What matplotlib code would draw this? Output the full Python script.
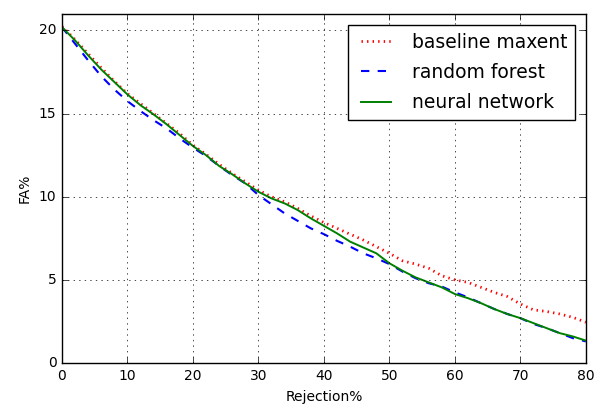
import matplotlib
matplotlib.use("Agg")
import matplotlib.pyplot as plt
import numpy as np

plt.style.use("classic")

rejection = [0, 2, 4, 6, 8, 10, 12, 14, 16, 18, 20, 22, 24, 26, 28, 30, 32, 34, 36, 38,
             40, 42, 44, 46, 48, 50, 52, 54, 56, 58, 60, 62, 64, 66, 68, 70, 72, 74, 76, 78, 80]

fa_maxent = [20.25, 19.45, 18.6, 17.75, 16.95, 16.2, 15.6, 15.0, 14.4, 13.8, 13.1, 12.55,
             11.95, 11.4, 10.9, 10.4, 10.0, 9.7, 9.3, 8.85, 8.45, 8.1, 7.75, 7.4, 7.0, 6.6,
             6.15, 5.95, 5.7, 5.25, 5.0, 4.85, 4.55, 4.25, 4.0, 3.55, 3.2, 3.1, 2.95, 2.75, 2.45]

fa_forest = [20.2, 19.2, 18.2, 17.25, 16.45, 15.75, 15.15, 14.6, 14.1, 13.5, 12.95, 12.45,
             11.85, 11.3, 10.8, 10.1, 9.55, 9.0, 8.55, 8.1, 7.75, 7.35, 7.0, 6.6, 6.3, 5.95,
             5.5, 5.1, 4.8, 4.6, 4.25, 3.95, 3.6, 3.25, 2.95, 2.7, 2.35, 2.1, 1.8, 1.5, 1.3]

fa_neural = [20.2, 19.4, 18.5, 17.65, 16.9, 16.15, 15.5, 14.95, 14.35, 13.7, 13.05, 12.5,
             11.85, 11.35, 10.8, 10.3, 9.9, 9.6, 9.2, 8.7, 8.25, 7.8, 7.3, 6.95, 6.6, 6.0,
             5.55, 5.15, 4.85, 4.55, 4.15, 3.9, 3.6, 3.25, 2.95, 2.7, 2.4, 2.1, 1.8, 1.6, 1.35]

fig = plt.figure(figsize=(5.96, 4.07), dpi=100, facecolor="white")
ax = fig.add_axes([0.104, 0.108, 0.879, 0.858])

ax.plot(rejection, fa_maxent, "r:", lw=2.0, label="baseline maxent")
ax.plot(rejection, fa_forest, "b--", lw=1.5, label="random forest")
ax.plot(rejection, fa_neural, "g-", lw=1.4, label="neural network")

ax.set_xlim(0, 80)
ax.set_ylim(0, 21)
ax.set_xticks(np.arange(0, 81, 10))
ax.set_yticks([0, 5, 10, 15, 20])
ax.tick_params(labelsize=10)
ax.grid(True)
ax.set_xlabel("Rejection%", fontsize=10)
ax.set_ylabel("FA%", fontsize=10)
ax.legend(loc="upper right", fontsize=13.5, handlelength=2.2, labelspacing=0.6,
          borderaxespad=0.6)

fig.savefig("out.png", dpi=100, facecolor="white")
